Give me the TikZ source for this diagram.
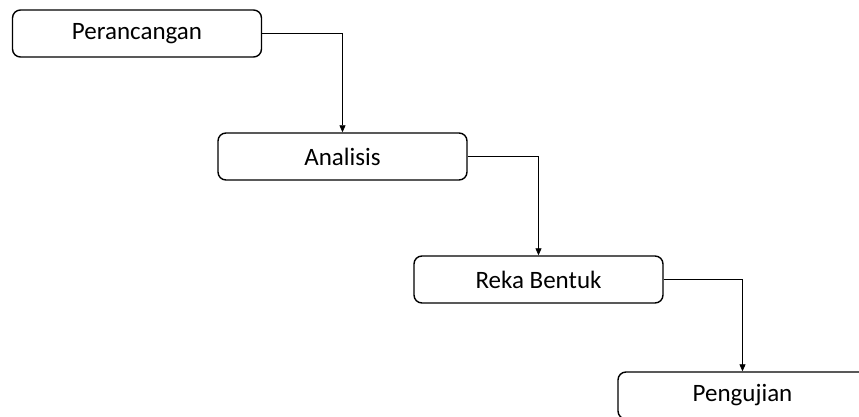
\documentclass[tikz,border=0pt]{standalone}
\usepackage{fontspec}
\setmainfont{Carlito}
\usetikzlibrary{arrows.meta}
\tikzset{
    tahap/.style={draw, rounded corners=8pt, line width=1.4pt, minimum width=249pt,
        minimum height=47pt, inner sep=0pt, font=\fontsize{25}{30}\selectfont},
    alir/.style={->, >={Triangle[length=7pt, width=6pt]}, line width=0.8pt}
}
\begin{document}
\begin{tikzpicture}[x=1pt, y=-1pt]
            \useasboundingbox (0, 0) rectangle (859, 417);
            \clip (0, 0) rectangle (859, 417);
            \node[tahap] (rancang) at (137, 33.5) {Perancangan};
            \node[tahap] (analisis) at (342.5, 156.5) {Analisis};
            \node[tahap] (reka) at (538.5, 279.5) {Reka Bentuk};
            \node[tahap] (uji) at (742.5, 395.5) {Pengujian};
            % sambungan antar tahap
            \draw[alir] (rancang.east) -| (analisis.north);
            \draw[alir] (analisis.east) -| (reka.north);
            \draw[alir] (reka.east) -| (uji.north);
        \end{tikzpicture}
\end{document}
